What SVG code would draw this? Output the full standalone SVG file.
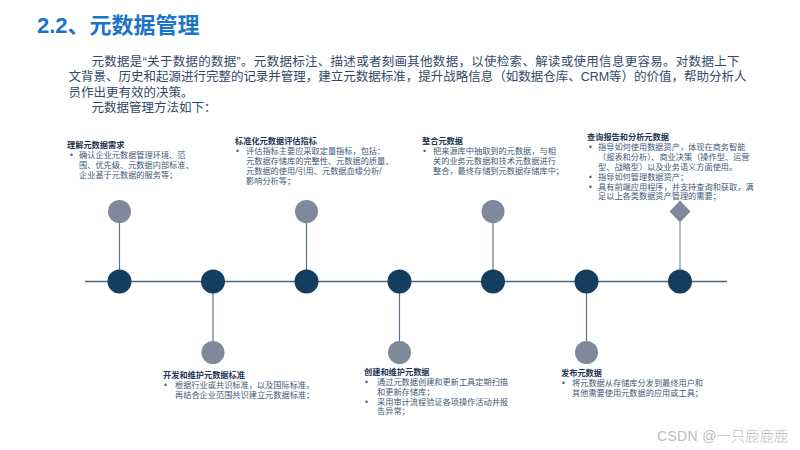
<svg xmlns="http://www.w3.org/2000/svg" width="800" height="450" viewBox="0 0 800 450">
<style>
.cjk{font-family:"Liberation Sans","Noto Sans CJK SC",sans-serif}
.title{font-size:22px;font-weight:bold;fill:#1b74c8}
.para{font-size:12.5px;fill:#34496a}
.nt{font-size:8.2px;font-weight:bold;fill:#1f3554}
.nb{font-size:8.2px;fill:#40597a}
.dark{fill:#143e5f}
.gray{fill:#7e8a9b}
.stem{stroke:#5b7189;stroke-width:1.2}
.axis{stroke:#4f6479;stroke-width:1.5}
.wm{font-size:14px;fill:#bdbdbd;font-weight:300}
</style>
<rect width="800" height="450" fill="#ffffff"/>
<text class="cjk title" x="37" y="33">2.2、元数据管理</text>
<g id="intro" class="cjk para">
<text x="91.5" y="65.5" textLength="648" lengthAdjust="spacing">元数据是“关于数据的数据”。元数据标注、描述或者刻画其他数据，以使检索、解读或使用信息更容易。对数据上下</text>
<text x="68.5" y="81" textLength="678" lengthAdjust="spacing">文背景、历史和起源进行完整的记录并管理，建立元数据标准，提升战略信息（如数据仓库、CRM等）的价值，帮助分析人</text>
<text x="68.5" y="96.5">员作出更有效的决策。</text>
<text x="91.5" y="112">元数据管理方法如下：</text>
</g>
<g id="connectors">
<line class="axis" x1="85" y1="281.5" x2="727" y2="281.5"/>
<line class="stem" x1="119.5" y1="223" x2="119.5" y2="270"/>
<line class="stem" x1="306.5" y1="223" x2="306.5" y2="270"/>
<line class="stem" x1="493" y1="223" x2="493" y2="270"/>
<line class="stem" x1="680" y1="222" x2="680" y2="270" style="stroke:#7f93a6"/>
<line class="stem" x1="213" y1="293" x2="213" y2="341"/>
<line class="stem" x1="399.5" y1="293" x2="399.5" y2="341"/>
<line class="stem" x1="586.5" y1="293" x2="586.5" y2="341"/>
</g>
<g id="node1">
<circle class="dark" cx="119.5" cy="281.5" r="12"/>
<circle class="gray" cx="119.5" cy="211.5" r="11.5"/>
<text class="cjk nt" x="67" y="148">理解元数据需求</text>
<g class="cjk nb">
<text x="70" y="158">•</text>
<text x="79" y="158">确认企业元数据管理环境、范</text>
<text x="79" y="168">围、优先级、元数据内部标准、</text>
<text x="79" y="178">企业基于元数据的服务等；</text>
</g>
</g>
<g id="node2">
<circle class="dark" cx="213" cy="281.5" r="12"/>
<circle class="gray" cx="213" cy="352.5" r="11.5"/>
<text class="cjk nt" x="163" y="378">开发和维护元数据标准</text>
<g class="cjk nb">
<text x="164" y="388">•</text>
<text x="175" y="388">根据行业或共识标准，以及国际标准，</text>
<text x="175" y="398">再结合企业范围共识建立元数据标准；</text>
</g>
</g>
<g id="node3">
<circle class="dark" cx="306.5" cy="281.5" r="12"/>
<circle class="gray" cx="306.5" cy="211.5" r="11.5"/>
<text class="cjk nt" x="235" y="144">标准化元数据评估指标</text>
<g class="cjk nb">
<text x="236" y="154">•</text>
<text x="246" y="154">评估指标主要应采取定量指标，包括：</text>
<text x="246" y="164">元数据存储库的完整性、元数据的质量、</text>
<text x="246" y="174">元数据的使用/引用、元数据血缘分析/</text>
<text x="246" y="184">影响分析等；</text>
</g>
</g>
<g id="node4">
<circle class="dark" cx="399.5" cy="281.5" r="12"/>
<circle class="gray" cx="399.5" cy="352.5" r="11.5"/>
<text class="cjk nt" x="364" y="375">创建和维护元数据</text>
<g class="cjk nb">
<text x="365" y="385">•</text>
<text x="377" y="385">通过元数据创建和更新工具定期扫描</text>
<text x="377" y="395">和更新存储库；</text>
<text x="365" y="405">•</text>
<text x="377" y="405">采用审计流程验证各项操作活动并报</text>
<text x="377" y="414">告异常；</text>
</g>
</g>
<g id="node5">
<circle class="dark" cx="493" cy="281.5" r="12"/>
<circle class="gray" cx="493" cy="211.5" r="11.5"/>
<text class="cjk nt" x="422" y="144">整合元数据</text>
<g class="cjk nb">
<text x="423" y="154">•</text>
<text x="433" y="154">把来源库中抽取到的元数据，与相</text>
<text x="433" y="164">关的业务元数据和技术元数据进行</text>
<text x="433" y="174">整合，最终存储到元数据存储库中；</text>
</g>
</g>
<g id="node6">
<circle class="dark" cx="586.5" cy="281.5" r="12"/>
<circle class="gray" cx="586.5" cy="352.5" r="11.5"/>
<text class="cjk nt" x="561" y="376">发布元数据</text>
<g class="cjk nb">
<text x="562" y="386">•</text>
<text x="572" y="386">将元数据从存储库分发到最终用户和</text>
<text x="572" y="396">其他需要使用元数据的应用或工具；</text>
</g>
</g>
<g id="node7">
<circle class="dark" cx="680" cy="281.5" r="12"/>
<polygon class="gray" points="680,200.5 690.5,211.5 680,222.5 669.5,211.5"/>
<text class="cjk nt" x="587" y="140">查询报告和分析元数据</text>
<g class="cjk nb">
<text x="589" y="150">•</text>
<text x="598" y="150">指导如何使用数据资产，体现在商务智能</text>
<text x="598" y="160">（报表和分析）、商业决策（操作型、运营</text>
<text x="598" y="170">型、战略型）以及业务语义方面使用。</text>
<text x="589" y="180">•</text>
<text x="598" y="180">指导如何管理数据资产；</text>
<text x="589" y="190">•</text>
<text x="598" y="190">具有前端应用程序，并支持查询和获取，满</text>
<text x="598" y="199">足以上各类数据资产管理的需要；</text>
</g>
</g>
<text class="cjk wm" x="657" y="441" textLength="131" lengthAdjust="spacing">CSDN @一只鹿鹿鹿</text>
</svg>
